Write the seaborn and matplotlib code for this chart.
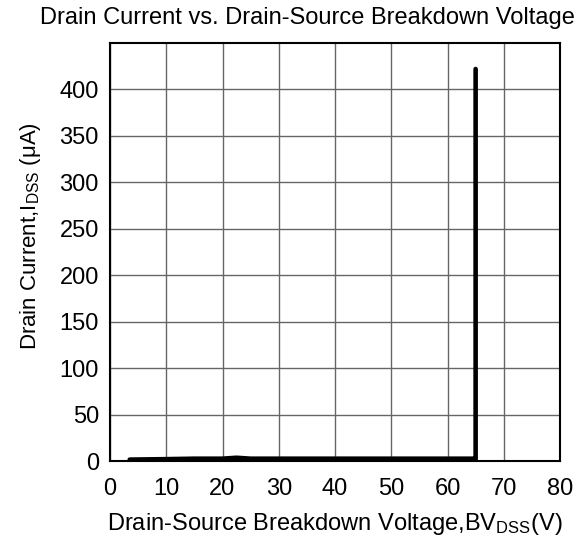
import matplotlib
matplotlib.use("Agg")
import matplotlib.pyplot as plt
import seaborn as sns
import pandas as pd

# Data
voltage = [3.5, 10.0, 15.0, 20.0, 22.5, 25.0, 30.0, 40.0, 50.0, 60.0, 64.9, 65.0, 65.0]
current = [1.5, 2.0, 2.5, 2.5, 3.5, 2.5, 2.5, 2.5, 2.5, 2.5, 2.5, 2.5, 422.0]
x_ticks = [0, 10, 20, 30, 40, 50, 60, 70, 80]
y_ticks = [0, 50, 100, 150, 200, 250, 300, 350, 400]

title = "Drain Current vs. Drain-Source Breakdown Voltage"
xlabel = r"Drain-Source Breakdown Voltage,BV$_{\mathrm{DSS}}$(V)"
ylabel = r"Drain Current,I$_{\mathrm{DSS}}$ (μA)"

sns.set_theme(style="white")
plt.rcParams["font.family"] = ["Liberation Sans", "DejaVu Sans"]
plt.rcParams["mathtext.fontset"] = "custom"
plt.rcParams["mathtext.rm"] = "Liberation Sans"
plt.rcParams["mathtext.it"] = "Liberation Sans"

df = pd.DataFrame({"V": voltage, "I": current})

fig = plt.figure(figsize=(5.84, 5.37), dpi=100)
ax = fig.add_axes([110 / 584, 1 - 461 / 537, 450 / 584, 418 / 537])

sns.lineplot(data=df, x="V", y="I", ax=ax, color="black", linewidth=3.3,
             sort=False, estimator=None, solid_capstyle="round",
             solid_joinstyle="miter")

ax.set_xlim(0, 80)
ax.set_ylim(0, 450)
ax.set_xticks(x_ticks)
ax.set_yticks(y_ticks)
ax.tick_params(axis="both", length=0, labelsize=17, colors="black")
ax.tick_params(axis="x", pad=12)
ax.tick_params(axis="y", pad=8)
ax.grid(True, color="#666666", linewidth=1.0)
ax.set_axisbelow(True)
for s in ax.spines.values():
    s.set_color("black")
    s.set_linewidth(1.5)

ax.set_xlabel(xlabel, fontsize=17, color="black", labelpad=8)
ax.set_ylabel(ylabel, fontsize=16, color="black", labelpad=12, y=0.538)
fig.text(307 / 584, 1 - 18 / 537, title, ha="center", va="center",
         fontsize=17, color="black")

fig.savefig("out.png", dpi=100, facecolor="white")
